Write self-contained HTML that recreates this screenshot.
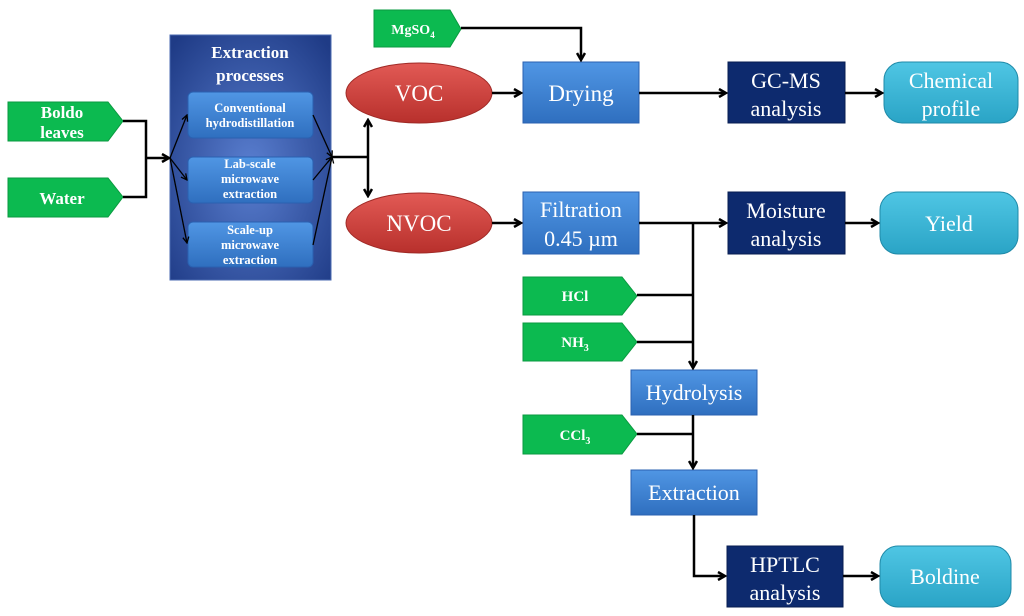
<!DOCTYPE html>
<html><head><meta charset="utf-8"><style>
html,body{margin:0;padding:0;background:#fff;}
svg{display:block;}
text{font-family:"Liberation Serif",serif;fill:#fff;text-anchor:middle;}
.b{font-weight:bold;}
</style></head><body>
<svg width="1024" height="616" viewBox="0 0 1024 616" xmlns="http://www.w3.org/2000/svg">
<defs>
<marker id="a" markerWidth="10" markerHeight="10" refX="8" refY="5" orient="auto" markerUnits="userSpaceOnUse"><path d="M1,1 L8,5 L1,9" fill="none" stroke="#000" stroke-width="2.5"/></marker>
<marker id="s" markerWidth="8" markerHeight="8" refX="7" refY="4" orient="auto" markerUnits="userSpaceOnUse"><path d="M1,1 L7,4 L1,7" fill="none" stroke="#000" stroke-width="1.3"/></marker>
<radialGradient id="ext" cx="0.5" cy="0.55" r="0.7"><stop offset="0" stop-color="#5a7fd0"/><stop offset="1" stop-color="#1f3b86"/></radialGradient>
<linearGradient id="lb" x1="0" y1="0" x2="0" y2="1"><stop offset="0" stop-color="#5096e4"/><stop offset="1" stop-color="#2f6fbf"/></linearGradient>
<linearGradient id="rd" x1="0" y1="0" x2="0" y2="1"><stop offset="0" stop-color="#e25a55"/><stop offset="1" stop-color="#b8302c"/></linearGradient>
<linearGradient id="cy" x1="0" y1="0" x2="0" y2="1"><stop offset="0" stop-color="#4fc6e4"/><stop offset="1" stop-color="#2aa4c6"/></linearGradient>
</defs>
<g fill="#0cba50" stroke="#0a9a40" stroke-width="1">
<polygon points="8,102 108,102 123,121 108,141 8,141"/>
<polygon points="8,178 108,178 123,197 108,217 8,217"/>
<polygon points="374,10 450,10 461,29 450,47 374,47"/>
<polygon points="523,277 622,277 637,296 622,315 523,315"/>
<polygon points="523,323 622,323 637,342 622,361 523,361"/>
<polygon points="523,415 622,415 637,434 622,454 523,454"/>
</g>
<text class="b" x="62" y="118" font-size="17">Boldo</text>
<text class="b" x="62" y="138" font-size="17">leaves</text>
<text class="b" x="62" y="204" font-size="17">Water</text>
<text class="b" x="413" y="34" font-size="14">MgSO<tspan font-size="9" dy="4">4</tspan></text>
<text class="b" x="575" y="301" font-size="15">HCl</text>
<text class="b" x="575" y="347" font-size="15">NH<tspan font-size="10" dy="4">3</tspan></text>
<text class="b" x="575" y="440" font-size="15">CCl<tspan font-size="10" dy="4">3</tspan></text>
<rect x="170" y="35" width="161" height="245" fill="url(#ext)" stroke="#4a6ab0"/>
<text class="b" x="250" y="58" font-size="17">Extraction</text>
<text class="b" x="250" y="81" font-size="17">processes</text>
<g fill="url(#lb)" stroke="#2a60b0"><rect x="188" y="92" width="125" height="46" rx="5"/><rect x="188" y="157" width="125" height="46" rx="5"/><rect x="188" y="222" width="125" height="45" rx="5"/></g>
<g class="b" font-size="12.5"><text x="250" y="112">Conventional</text><text x="250" y="127">hydrodistillation</text>
<text x="250" y="168">Lab-scale</text><text x="250" y="183">microwave</text><text x="250" y="198">extraction</text>
<text x="250" y="234">Scale-up</text><text x="250" y="249">microwave</text><text x="250" y="264">extraction</text></g>
<ellipse cx="419" cy="93" rx="73" ry="30" fill="url(#rd)" stroke="#a02a26"/>
<ellipse cx="419" cy="223" rx="73" ry="30" fill="url(#rd)" stroke="#a02a26"/>
<text x="419" y="101" font-size="23">VOC</text><text x="419" y="231" font-size="23">NVOC</text>
<g fill="url(#lb)" stroke="#2a60b0"><rect x="523" y="62" width="116" height="61"/><rect x="523" y="192" width="116" height="62"/><rect x="631" y="370" width="126" height="45"/><rect x="631" y="470" width="126" height="45"/></g>
<text x="581" y="101" font-size="23">Drying</text>
<text x="581" y="217" font-size="22">Filtration</text><text x="581" y="246" font-size="22">0.45 µm</text>
<text x="694" y="400" font-size="22">Hydrolysis</text><text x="694" y="500" font-size="22">Extraction</text>
<g fill="#0d2a6e" stroke="#071c50"><rect x="728" y="62" width="117" height="61"/><rect x="728" y="192" width="117" height="62"/><rect x="727" y="546" width="116" height="61"/></g>
<text x="786" y="88" font-size="22">GC-MS</text><text x="786" y="116" font-size="22">analysis</text>
<text x="786" y="218" font-size="22">Moisture</text><text x="786" y="246" font-size="22">analysis</text>
<text x="785" y="572" font-size="22">HPTLC</text><text x="785" y="600" font-size="22">analysis</text>
<g fill="url(#cy)" stroke="#1f8aa8"><rect x="884" y="62" width="134" height="61" rx="18"/><rect x="880" y="192" width="138" height="62" rx="18"/><rect x="880" y="546" width="131" height="61" rx="18"/></g>
<text x="951" y="88" font-size="22">Chemical</text><text x="951" y="116" font-size="22">profile</text>
<text x="949" y="231" font-size="22">Yield</text><text x="945" y="584" font-size="22">Boldine</text>
<g fill="none" stroke="#000" stroke-width="2.5">
<polyline points="123,121 146,121 146,197 123,197"/>
<line x1="146" y1="158" x2="169" y2="158" marker-end="url(#a)"/>
<line x1="332" y1="157" x2="368" y2="157"/>
<line x1="368" y1="157" x2="368" y2="120" marker-end="url(#a)"/>
<line x1="368" y1="157" x2="368" y2="196" marker-end="url(#a)"/>
<line x1="492" y1="93" x2="521" y2="93" marker-end="url(#a)"/>
<line x1="492" y1="223" x2="521" y2="223" marker-end="url(#a)"/>
<polyline points="461,28 581,28 581,60" marker-end="url(#a)"/>
<line x1="639" y1="93" x2="726" y2="93" marker-end="url(#a)"/>
<line x1="639" y1="223" x2="726" y2="223" marker-end="url(#a)"/>
<line x1="845" y1="93" x2="882" y2="93" marker-end="url(#a)"/>
<line x1="845" y1="223" x2="878" y2="223" marker-end="url(#a)"/>
<line x1="693" y1="223" x2="693" y2="368" marker-end="url(#a)"/>
<line x1="637" y1="295" x2="693" y2="295"/>
<line x1="637" y1="342" x2="693" y2="342"/>
<line x1="693" y1="415" x2="693" y2="468" marker-end="url(#a)"/>
<line x1="637" y1="434" x2="693" y2="434"/>
<polyline points="694,515 694,576 725,576" marker-end="url(#a)"/>
<line x1="843" y1="576" x2="878" y2="576" marker-end="url(#a)"/>
</g>
<g fill="none" stroke="#000" stroke-width="1.3">
<line x1="170" y1="158" x2="187" y2="115" marker-end="url(#s)"/>
<line x1="170" y1="158" x2="187" y2="180" marker-end="url(#s)"/>
<line x1="170" y1="158" x2="187" y2="243" marker-end="url(#s)"/>
<line x1="313" y1="115" x2="332" y2="157" marker-end="url(#s)"/>
<line x1="313" y1="180" x2="332" y2="157" marker-end="url(#s)"/>
<line x1="313" y1="245" x2="332" y2="157" marker-end="url(#s)"/>
</g>
</svg>
</body></html>
